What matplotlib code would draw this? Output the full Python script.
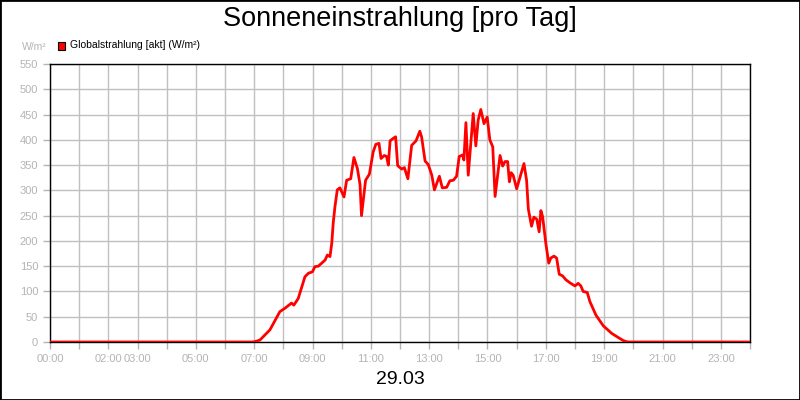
import matplotlib.pyplot as plt
from matplotlib.patches import Rectangle

plt.rcParams['font.family'] = ['Liberation Sans', 'DejaVu Sans']

# Stunde des Tages -> Globalstrahlung (W/m²)
hours = [0, 6.93, 7.0, 7.1, 7.2, 7.54, 7.88, 8.06, 8.28, 8.36, 8.51, 8.74, 8.86, 9.0,
         9.08, 9.2, 9.43, 9.51, 9.6, 9.66, 9.71, 9.77, 9.85, 9.94, 10.08, 10.17,
         10.31, 10.42, 10.54, 10.63, 10.68, 10.82, 10.95, 11.08, 11.17, 11.28,
         11.35, 11.46, 11.54, 11.6, 11.66, 11.77, 11.85, 11.92, 12.06, 12.15,
         12.27, 12.4, 12.55, 12.68, 12.74, 12.86, 12.97, 13.09, 13.18, 13.35,
         13.45, 13.6, 13.71, 13.83, 13.94, 14.03, 14.15, 14.19, 14.26, 14.34,
         14.51, 14.6, 14.68, 14.77, 14.88, 14.99, 15.08, 15.18, 15.26, 15.43,
         15.52, 15.6, 15.69, 15.75, 15.81, 15.88, 16.0, 16.25, 16.34, 16.4,
         16.51, 16.59, 16.69, 16.77, 16.83, 16.89, 17.0, 17.1, 17.17, 17.28,
         17.37, 17.46, 17.57, 17.69, 17.83, 17.94, 18.0, 18.11, 18.2, 18.28,
         18.42, 18.51, 18.72, 18.97, 19.26, 19.48, 19.65, 19.77, 19.85, 24]
radiation = [0, 0, 0.5, 2, 4, 24, 60, 67, 77, 73, 86, 129, 136, 139,
             149, 150, 162, 172, 169, 195, 235, 268, 301, 305, 287, 320,
             323, 365, 343, 311, 250, 320, 332, 376, 391, 393,
             363, 369, 367, 350, 398, 403, 406, 349, 342, 345,
             323, 389, 398, 417, 406, 358, 351, 330, 301, 328,
             305, 306, 319, 320, 328, 367, 370, 360, 434, 330,
             452, 388, 439, 460, 432, 445, 400, 386, 288, 369,
             348, 357, 357, 317, 335, 330, 303, 353, 320, 263,
             229, 247, 243, 218, 260, 248, 195, 156, 166, 170,
             166, 134, 131, 123, 117, 113, 111, 116, 111, 100,
             98, 80, 53, 32, 17, 9, 3, 0.6, 0, 0]

tick_hours = list(range(25))
tick_labels = {0: '00:00', 2: '02:00', 3: '03:00', 5: '05:00', 7: '07:00',
               9: '09:00', 11: '11:00', 13: '13:00', 15: '15:00', 17: '17:00',
               19: '19:00', 21: '21:00', 23: '23:00'}
y_ticks = list(range(0, 551, 50))

grey = '#b4b4b4'

fig = plt.figure(figsize=(8, 4), dpi=100)
fig.patches.append(Rectangle((0, 0), 1, 1, transform=fig.transFigure,
                             fill=False, edgecolor='black', linewidth=2))
ax = fig.add_axes([0.0625, 0.145, 0.875, 0.695])

ax.plot(hours, radiation, color='red', linewidth=2, zorder=3)

ax.set_xlim(0, 24)
ax.set_ylim(0, 550)
ax.set_xticks(tick_hours)
ax.set_xticklabels([tick_labels.get(h, '') for h in tick_hours])
ax.set_yticks(y_ticks)
ax.grid(True, color='#c0c0c0', linewidth=1)
ax.set_axisbelow(True)
ax.tick_params(colors=grey, labelcolor=grey, labelsize=8, length=5, width=1)
for sp in ax.spines.values():
    sp.set_color('black')
    sp.set_linewidth(1)

fig.text(0.5, 0.953, 'Sonneneinstrahlung [pro Tag]', ha='center', va='center',
         fontsize=19.5)
fig.text(0.5, 0.052, '29.03', ha='center', va='center', fontsize=14)
fig.text(0.028, 0.882, 'W/m²', ha='left', va='center', fontsize=7.5, color=grey)
fig.patches.append(Rectangle((0.0725, 0.876), 0.009, 0.018, transform=fig.transFigure,
                             facecolor='red', edgecolor='black', linewidth=0.8))
fig.text(0.0875, 0.887, 'Globalstrahlung [akt] (W/m²)', ha='left', va='center',
         fontsize=7.5)

fig.savefig('out.png', dpi=100)
